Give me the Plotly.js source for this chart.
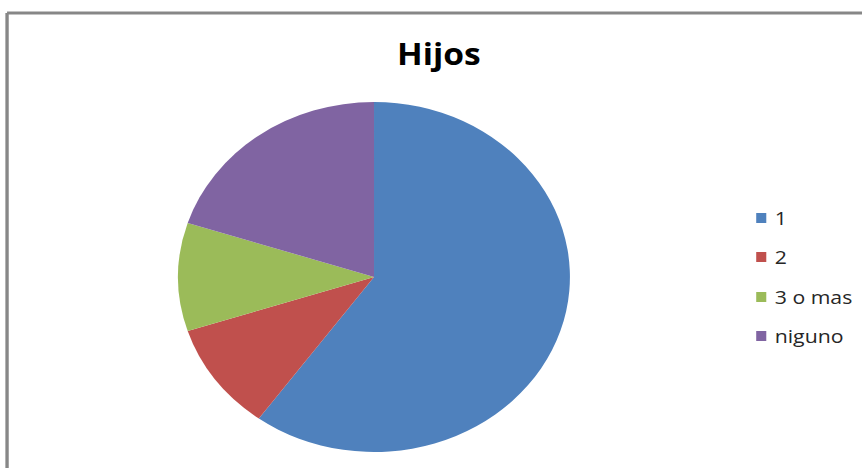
<!DOCTYPE html>
<html>
<head>
<meta charset="utf-8">
<script src="https://cdn.plot.ly/plotly-3.0.1.min.js"></script>
<style>
  html, body { margin: 0; padding: 0; background: #fff; overflow: hidden; }
  #wrap { width: 862px; height: 468px; overflow: hidden; }
  #chart { width: 770px; height: 468px; transform: scaleX(1.11948); transform-origin: 0 0; }
</style>
</head>
<body>
<div id="wrap"><div id="chart"></div></div>
<script>
const chartTitle = "Hijos";
const categories = ["1", "2", "3 o mas", "niguno"];
const values = [60, 10, 10, 20];
const colors = ["#4F81BD", "#C0504D", "#9BBB59", "#8064A2"];

const W = 770, H = 468;
const px = x => x / W;
const py = y => 1 - y / H;

const legendRowsY = [218, 257, 297, 336];
const shapes = [
  {type: "line", xref: "paper", yref: "paper", x0: px(6.3), y0: py(13), x1: px(780), y1: py(13), line: {color: "#878787", width: 3}},
  {type: "line", xref: "paper", yref: "paper", x0: px(6.3), y0: py(13), x1: px(6.3), y1: py(480), line: {color: "#878787", width: 3}}
];
const annotations = [];
categories.forEach((c, i) => {
  const yc = legendRowsY[i];
  shapes.push({type: "rect", xref: "paper", yref: "paper", x0: px(675.5), x1: px(684.5), y0: py(yc + 5), y1: py(yc - 5), fillcolor: colors[i], line: {width: 0}});
  annotations.push({xref: "paper", yref: "paper", x: px(689.5), y: py(yc), xanchor: "left", yanchor: "middle", text: c, showarrow: false, font: {family: "Open Sans, sans-serif", size: 19, color: "#262626"}});
});

const data = [{
  type: "pie",
  labels: categories,
  values: values,
  marker: {colors: colors, line: {width: 0}},
  sort: false,
  direction: "clockwise",
  rotation: 0,
  textinfo: "none",
  hoverinfo: "label+value",
  showlegend: false,
  domain: {x: [px(334.1 - 175), px(334.1 + 175)], y: [py(452), py(102)]}
}];

const layout = {
  width: W, height: H,
  margin: {l: 0, r: 0, t: 0, b: 0},
  paper_bgcolor: "#ffffff",
  showlegend: false,
  title: {text: "<b>" + chartTitle + "</b>", x: px(392), y: py(55), xanchor: "center", yanchor: "middle", xref: "paper", yref: "paper", font: {family: "Open Sans, sans-serif", size: 30, color: "#000000"}},
  shapes: shapes,
  annotations: annotations
};

Plotly.newPlot("chart", data, layout, {displayModeBar: false, staticPlot: true});
</script>
</body>
</html>
